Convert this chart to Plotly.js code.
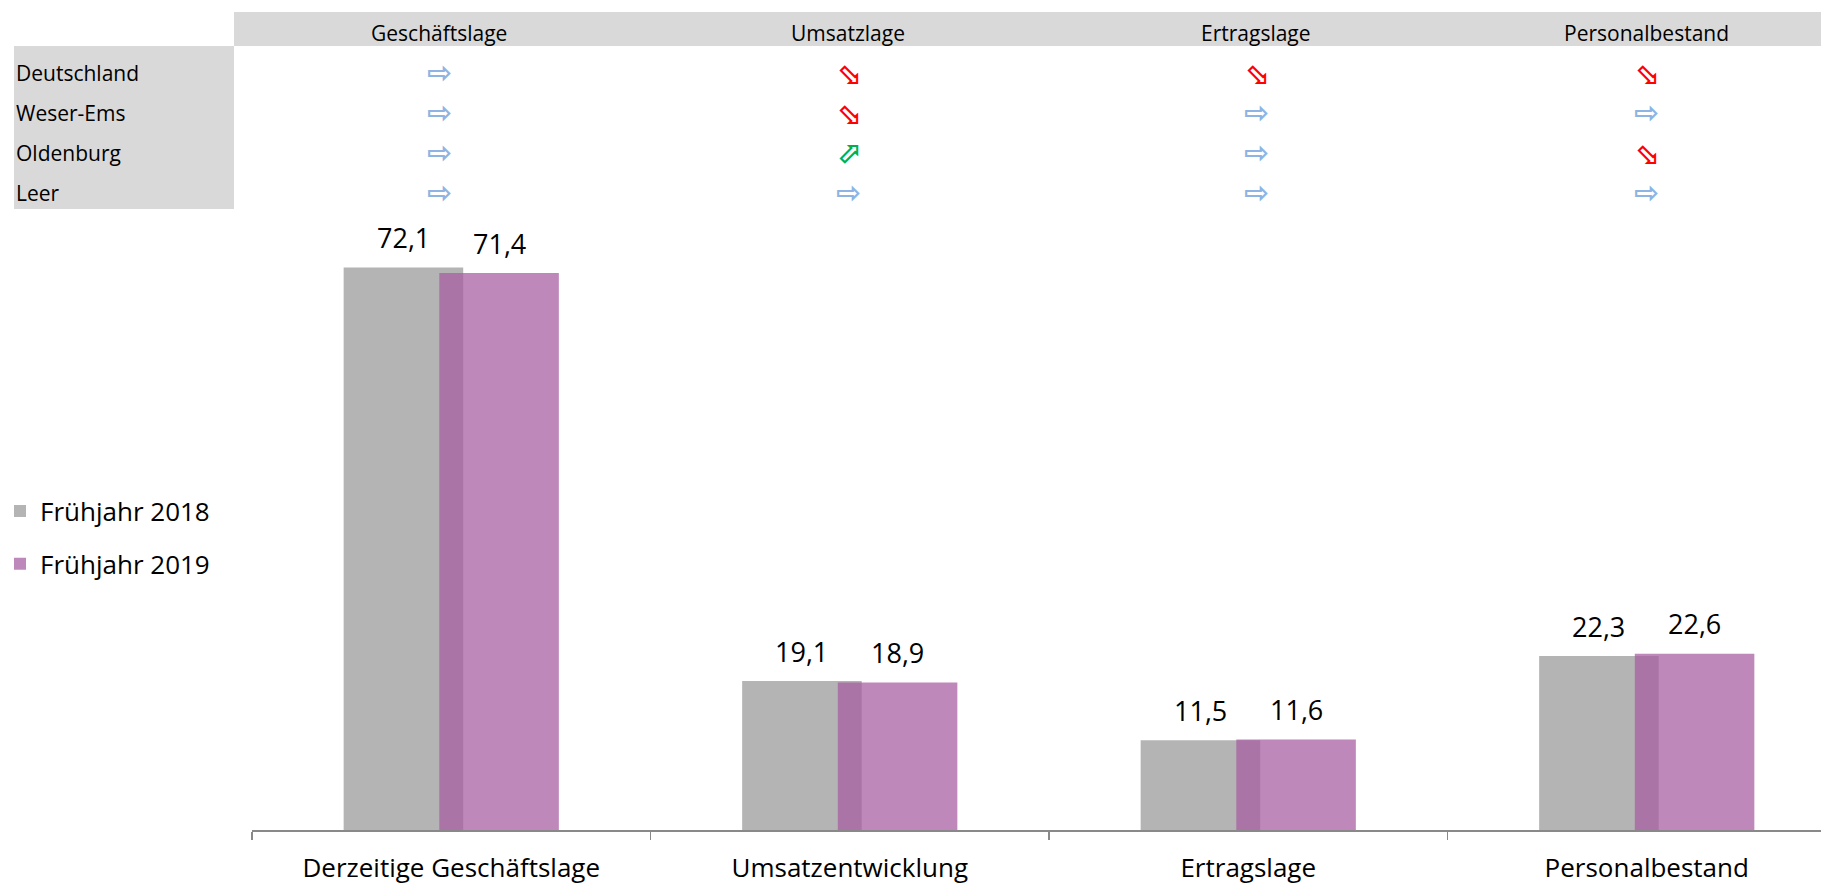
<!DOCTYPE html>
<html><head><meta charset="utf-8">
<script src="https://cdn.plot.ly/plotly-3.0.1.min.js"></script>
<style>html,body{margin:0;padding:0;background:#fff}#chart{width:1821px;height:885px}</style>
</head><body><div id="chart"></div>
<script>
// ---- data ----
const categories = ['Derzeitige Geschäftslage', 'Umsatzentwicklung', 'Ertragslage', 'Personalbestand'];
const seriesNames = ['Frühjahr 2018', 'Frühjahr 2019'];
const values2018 = [72.1, 19.1, 11.5, 22.3];
const values2019 = [71.4, 18.9, 11.6, 22.6];

const tableColumns = ['Geschäftslage', 'Umsatzlage', 'Ertragslage', 'Personalbestand'];
const tableRegions = ['Deutschland', 'Weser-Ems', 'Oldenburg', 'Leer'];
const trendDeutschland = ['flat', 'down', 'down', 'down'];
const trendWeserEms   = ['flat', 'down', 'flat', 'flat'];
const trendOldenburg  = ['flat', 'up',   'flat', 'down'];
const trendLeer       = ['flat', 'flat', 'flat', 'flat'];
const trendRows = [trendDeutschland, trendWeserEms, trendOldenburg, trendLeer];

// ---- layout helpers ----
const W = 1821, H = 885, ML = 252, MR = 0, MT = 200, MB = 55;
const PW = W - ML - MR, PH = H - MT - MB;
const px2x = p => (p - ML) / PW;
const py2y = p => (H - MB - p) / PH;
const FONT = 'Open Sans, sans-serif';
const catPx = 398.5;
const pxPerUnit = 7.80;

const arrowGlyph = {flat: '\u21E8', down: '\u2B02', up: '\u2B00'};
const arrowColor = {flat: '#8DB4E2', down: '#FF0000', up: '#00B050'};

const colPx = [439, 848, 1256, 1646];
const rowPx = [72, 112, 152, 192];

const fmt = v => v.toFixed(1).replace('.', ',');

const traces = [
  {type: 'bar', name: seriesNames[0], x: categories, y: values2018,
   width: 0.30, offset: -0.27, legendgroup: 'a',
   marker: {color: '#B4B4B4'}, hoverinfo: 'skip'},
  {type: 'bar', name: seriesNames[1], x: categories, y: values2019,
   width: 0.30, offset: -0.03, legendgroup: 'b',
   marker: {color: 'rgba(167,92,162,0.73)'}, hoverinfo: 'skip'}
];

const annotations = [];
const shapes = [];

// value labels
[values2018, values2019].forEach((vals, s) => {
  vals.forEach((v, i) => {
    annotations.push({x: i + (s === 0 ? -0.12 : 0.12), y: v, xref: 'x', yref: 'y',
      text: fmt(v), showarrow: false, yanchor: 'middle', yshift: 30,
      font: {family: FONT, size: 27, color: '#000'}});
  });
});

// table backgrounds
shapes.push({type: 'rect', xref: 'paper', yref: 'paper', x0: px2x(234), x1: px2x(W), y0: py2y(46), y1: py2y(12),
  fillcolor: '#D9D9D9', line: {width: 0}, layer: 'below'});
shapes.push({type: 'rect', xref: 'paper', yref: 'paper', x0: px2x(14), x1: px2x(234), y0: py2y(209), y1: py2y(46),
  fillcolor: '#D9D9D9', line: {width: 0}, layer: 'below'});

// table header
tableColumns.forEach((c, j) => {
  annotations.push({xref: 'paper', yref: 'paper', x: px2x(colPx[j]), y: py2y(32.5), text: c,
    showarrow: false, xanchor: 'center', yanchor: 'middle',
    font: {family: FONT, size: 21, color: '#000'}});
});
// row labels + arrows
tableRegions.forEach((r, i) => {
  annotations.push({xref: 'paper', yref: 'paper', x: px2x(14), y: py2y(rowPx[i] + 1), text: r,
    showarrow: false, xanchor: 'left', yanchor: 'middle',
    font: {family: FONT, size: 21, color: '#000'}});
  trendRows[i].forEach((t, j) => {
    annotations.push({xref: 'paper', yref: 'paper', x: px2x(colPx[j]), y: py2y(rowPx[i]), text: '<b>' + arrowGlyph[t] + '</b>',
      showarrow: false, xanchor: 'center', yanchor: 'middle',
      font: {family: 'DejaVu Sans', size: 30, color: arrowColor[t]}});
  });
});

const layout = {
  width: W, height: H,
  margin: {l: ML, r: MR, t: MT, b: MB, pad: 0},
  paper_bgcolor: '#fff', plot_bgcolor: '#fff',
  barmode: 'overlay',
  showlegend: true,
  legend: {x: px2x(0), xanchor: 'left', y: py2y(537.5), yanchor: 'middle',
    font: {family: FONT, size: 26, color: '#000'}, tracegroupgap: 16, traceorder: 'grouped',
    bgcolor: 'rgba(0,0,0,0)'},
  xaxis: {type: 'category', range: [-0.5, PW / catPx - 0.5], tickson: 'boundaries',
    ticks: 'outside', ticklen: 8, tickwidth: 1.5, tickcolor: '#898989',
    showline: true, linecolor: '#898989', linewidth: 1.5, showgrid: false, zeroline: false,
    tickfont: {family: FONT, size: 26, color: '#000'}, ticklabelstandoff: 14, fixedrange: true},
  yaxis: {visible: false, range: [0, PH / pxPerUnit], showgrid: false, zeroline: false, fixedrange: true},
  annotations: annotations,
  shapes: shapes
};

Plotly.newPlot('chart', traces, layout, {displayModeBar: false, staticPlot: true});
</script>
</body></html>
